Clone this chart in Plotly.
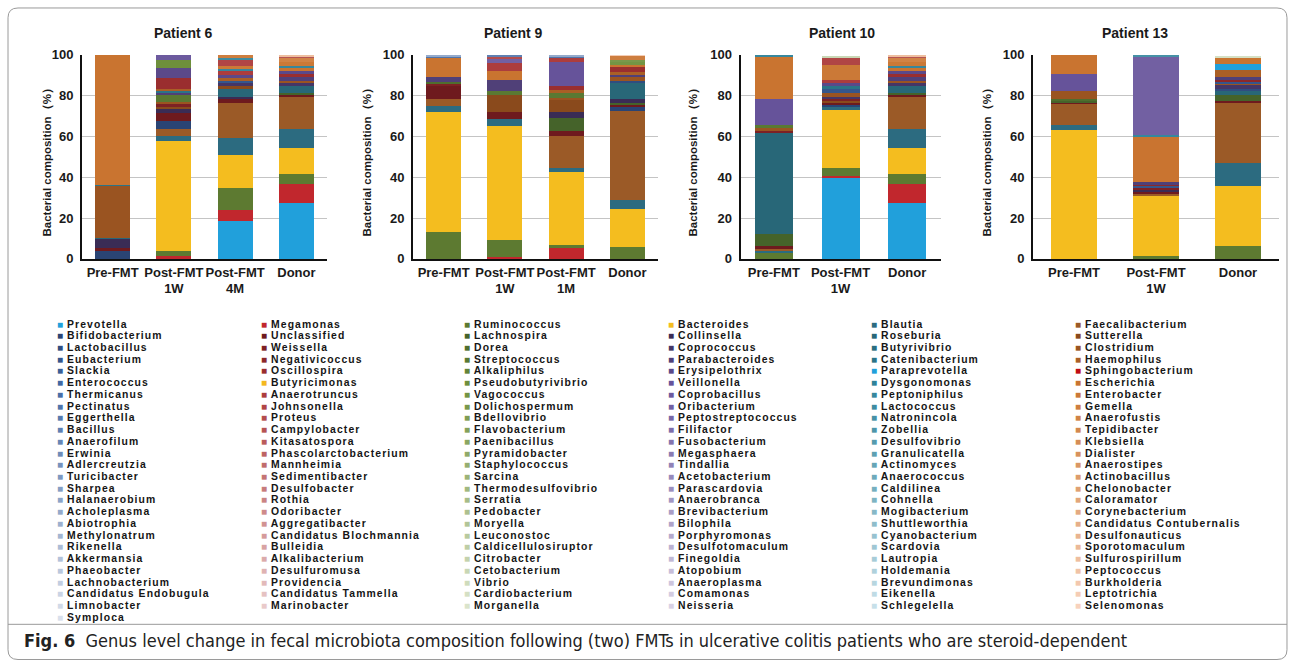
import plotly.graph_objects as go

# ---------------- legend / genus names (Excel legend, 6 columns) ----------------
COL1 = ["Prevotella", "Bifidobacterium", "Lactobacillus", "Eubacterium", "Slackia", "Enterococcus",
        "Thermicanus", "Pectinatus", "Eggerthella", "Bacillus", "Anaerofilum", "Erwinia", "Adlercreutzia",
        "Turicibacter", "Sharpea", "Halanaerobium", "Acholeplasma", "Abiotrophia", "Methylonatrum",
        "Rikenella", "Akkermansia", "Phaeobacter", "Lachnobacterium", "Candidatus Endobugula",
        "Limnobacter", "Symploca"]
COL2 = ["Megamonas", "Unclassified", "Weissella", "Negativicoccus", "Oscillospira", "Butyricimonas",
        "Anaerotruncus", "Johnsonella", "Proteus", "Campylobacter", "Kitasatospora",
        "Phascolarctobacterium", "Mannheimia", "Sedimentibacter", "Desulfobacter", "Rothia",
        "Odoribacter", "Aggregatibacter", "Candidatus Blochmannia", "Bulleidia", "Alkalibacterium",
        "Desulfuromusa", "Providencia", "Candidatus Tammella", "Marinobacter"]
COL3 = ["Ruminococcus", "Lachnospira", "Dorea", "Streptococcus", "Alkaliphilus", "Pseudobutyrivibrio",
        "Vagococcus", "Dolichospermum", "Bdellovibrio", "Flavobacterium", "Paenibacillus",
        "Pyramidobacter", "Staphylococcus", "Sarcina", "Thermodesulfovibrio", "Serratia", "Pedobacter",
        "Moryella", "Leuconostoc", "Caldicellulosiruptor", "Citrobacter", "Cetobacterium", "Vibrio",
        "Cardiobacterium", "Morganella"]
COL4 = ["Bacteroides", "Collinsella", "Coprococcus", "Parabacteroides", "Erysipelothrix", "Veillonella",
        "Coprobacillus", "Oribacterium", "Peptostreptococcus", "Filifactor", "Fusobacterium",
        "Megasphaera", "Tindallia", "Acetobacterium", "Parascardovia", "Anaerobranca", "Brevibacterium",
        "Bilophila", "Porphyromonas", "Desulfotomaculum", "Finegoldia", "Atopobium", "Anaeroplasma",
        "Comamonas", "Neisseria"]
COL5 = ["Blautia", "Roseburia", "Butyrivibrio", "Catenibacterium", "Paraprevotella", "Dysgonomonas",
        "Peptoniphilus", "Lactococcus", "Natronincola", "Zobellia", "Desulfovibrio", "Granulicatella",
        "Actinomyces", "Anaerococcus", "Caldilinea", "Cohnella", "Mogibacterium", "Shuttleworthia",
        "Cyanobacterium", "Scardovia", "Lautropia", "Holdemania", "Brevundimonas", "Eikenella",
        "Schlegelella"]
COL6 = ["Faecalibacterium", "Sutterella", "Clostridium", "Haemophilus", "Sphingobacterium", "Escherichia",
        "Enterobacter", "Gemella", "Anaerofustis", "Tepidibacter", "Klebsiella", "Dialister",
        "Anaerostipes", "Actinobacillus", "Chelonobacter", "Caloramator", "Corynebacterium",
        "Candidatus Contubernalis", "Desulfonauticus", "Sporotomaculum", "Sulfurospirillum",
        "Peptococcus", "Burkholderia", "Leptotrichia", "Selenomonas"]

# ---------------- samples ----------------
SAMPLES_P6 = ["Pre-FMT", "Post-FMT<br>1W", "Post-FMT<br>4M", "Donor"]
SAMPLES_P9 = ["Pre-FMT", "Post-FMT<br>1W", "Post-FMT<br>1M", "Donor"]
SAMPLES_P10 = ["Pre-FMT", "Post-FMT<br>1W", "Donor"]
SAMPLES_P13 = ["Pre-FMT", "Post-FMT<br>1W", "Donor"]

# ---------------- relative abundances (%) ----------------
P6_PRE = {"Bifidobacterium": 3.9, "Unclassified": 1.5, "Collinsella": 4.6, "Roseburia": 0.4,
          "Clostridium": 25.5, "Catenibacterium": 0.4, "Escherichia": 63.7}
P6_1W = {"Megamonas": 1.5, "Ruminococcus": 2.5, "Bacteroides": 54.0, "Blautia": 2.3,
         "Faecalibacterium": 3.4, "Bifidobacterium": 4.1, "Unclassified": 3.6, "Collinsella": 2.0,
         "Sutterella": 1.0, "Weissella": 1.4, "Clostridium": 1.0, "Streptococcus": 3.6,
         "Parabacteroides": 1.1, "Catenibacterium": 1.3, "Haemophilus": 0.5, "Oscillospira": 5.3,
         "Erysipelothrix": 4.9, "Pseudobutyrivibrio": 4.0, "Coprobacillus": 2.5}
P6_4M = {"Prevotella": 18.5, "Megamonas": 5.5, "Ruminococcus": 10.5, "Bacteroides": 16.6,
         "Blautia": 8.2, "Faecalibacterium": 17.3, "Unclassified": 1.7, "Collinsella": 1.0,
         "Roseburia": 3.9, "Sutterella": 1.6, "Coprococcus": 1.6, "Eubacterium": 1.0,
         "Haemophilus": 1.3, "Erysipelothrix": 1.6, "Anaerotruncus": 2.0, "Peptoniphilus": 0.6,
         "Enterobacter": 1.4, "Johnsonella": 3.6, "Lactococcus": 0.4, "Gemella": 1.7}
DONOR_A = {"Prevotella": 27.3, "Megamonas": 9.5, "Ruminococcus": 4.9, "Bacteroides": 12.4,
           "Blautia": 9.6, "Faecalibacterium": 15.4, "Unclassified": 1.0, "Lachnospira": 1.1,
           "Roseburia": 3.3, "Coprococcus": 1.9, "Clostridium": 1.0, "Parabacteroides": 1.9,
           "Oscillospira": 1.5, "Erysipelothrix": 1.5, "Escherichia": 1.1, "Peptoniphilus": 1.2,
           "Enterobacter": 2.0, "Anaerofustis": 1.6, "Campylobacter": 1.0, "Sulfurospirillum": 0.8}

P9_PRE = {"Ruminococcus": 13.1, "Bacteroides": 58.8, "Blautia": 3.1, "Faecalibacterium": 3.3,
          "Unclassified": 6.2, "Weissella": 1.0, "Dorea": 1.1, "Parabacteroides": 2.4,
          "Escherichia": 9.4, "Pectinatus": 1.1, "Acholeplasma": 0.5}
P9_1W = {"Megamonas": 0.7, "Ruminococcus": 8.6, "Bacteroides": 55.6, "Blautia": 3.6,
         "Unclassified": 3.4, "Sutterella": 8.5, "Streptococcus": 2.0, "Parabacteroides": 5.3,
         "Escherichia": 4.6, "Anaerotruncus": 3.9, "Oribacterium": 1.6, "Proteus": 1.1, "Bacillus": 1.1}
P9_1M = {"Megamonas": 5.2, "Ruminococcus": 1.7, "Bacteroides": 35.9, "Blautia": 1.5,
         "Faecalibacterium": 16.0, "Unclassified": 2.4, "Lachnospira": 6.3, "Collinsella": 2.9,
         "Sutterella": 6.0, "Clostridium": 1.0, "Streptococcus": 2.3, "Haemophilus": 1.6,
         "Oscillospira": 2.0, "Veillonella": 11.9, "Anaerotruncus": 1.7, "Pectinatus": 1.1,
         "Acholeplasma": 0.5}
P9_DONOR = {"Ruminococcus": 6.0, "Bacteroides": 18.5, "Blautia": 4.4, "Faecalibacterium": 43.6,
            "Bifidobacterium": 1.9, "Unclassified": 1.0, "Lachnospira": 1.2, "Collinsella": 1.7,
            "Roseburia": 7.8, "Lactobacillus": 1.1, "Clostridium": 1.8, "Parabacteroides": 1.2,
            "Haemophilus": 1.6, "Oscillospira": 2.5, "Escherichia": 0.8, "Vagococcus": 1.6,
            "Dolichospermum": 0.8, "Gemella": 2.2, "Leptotrichia": 0.3}

P10_PRE = {"Ruminococcus": 3.0, "Blautia": 1.2, "Faecalibacterium": 0.6, "Unclassified": 1.6,
           "Lachnospira": 5.7, "Roseburia": 49.5, "Weissella": 1.6, "Clostridium": 0.8,
           "Streptococcus": 1.7, "Veillonella": 12.7, "Escherichia": 21.1, "Peptoniphilus": 0.5}
P10_1W = {"Prevotella": 40.0, "Megamonas": 0.7, "Ruminococcus": 3.6, "Bacteroides": 28.7,
          "Blautia": 1.4, "Bifidobacterium": 1.2, "Unclassified": 0.8, "Sutterella": 1.5,
          "Weissella": 0.8, "Coprococcus": 0.8, "Clostridium": 2.0, "Eubacterium": 1.7,
          "Catenibacterium": 1.3, "Erysipelothrix": 1.6, "Anaerotruncus": 1.6, "Enterobacter": 7.4,
          "Johnsonella": 3.3, "Cetobacterium": 1.1}

P13_PRE = {"Bacteroides": 63.2, "Blautia": 2.3, "Faecalibacterium": 10.5, "Unclassified": 0.6,
           "Lachnospira": 0.6, "Dorea": 1.0, "Clostridium": 4.2, "Veillonella": 8.1, "Escherichia": 9.5}
P13_1W = {"Ruminococcus": 1.2, "Bacteroides": 29.8, "Faecalibacterium": 1.0, "Unclassified": 1.0,
          "Collinsella": 0.8, "Weissella": 1.1, "Eubacterium": 0.8, "Negativicoccus": 1.0,
          "Parabacteroides": 0.8, "Escherichia": 22.5, "Peptoniphilus": 0.5, "Oribacterium": 38.4,
          "Natronincola": 1.1}
P13_DONOR = {"Ruminococcus": 6.5, "Bacteroides": 29.4, "Blautia": 11.3, "Faecalibacterium": 29.1,
             "Unclassified": 1.2, "Lachnospira": 2.6, "Roseburia": 2.3, "Lactobacillus": 1.0,
             "Coprococcus": 1.6, "Clostridium": 1.0, "Eubacterium": 0.8, "Negativicoccus": 0.8,
             "Parabacteroides": 1.5, "Haemophilus": 3.6, "Paraprevotella": 2.6, "Escherichia": 3.2,
             "Cardiobacterium": 1.0}

PANELS = [
    ("Patient 6", SAMPLES_P6, [P6_PRE, P6_1W, P6_4M, DONOR_A]),
    ("Patient 9", SAMPLES_P9, [P9_PRE, P9_1W, P9_1M, P9_DONOR]),
    ("Patient 10", SAMPLES_P10, [P10_PRE, P10_1W, DONOR_A]),
    ("Patient 13", SAMPLES_P13, [P13_PRE, P13_1W, P13_DONOR]),
]
Y_TICKS = [0, 20, 40, 60, 80, 100]
CAPTION_LABEL = "Fig. 6"
CAPTION_TEXT = ("Genus level change in fecal microbiota composition following (two) FMTs in "
                "ulcerative colitis patients who are steroid-dependent")

# ---------------- styling ----------------
COLUMNS = [COL1, COL2, COL3, COL4, COL5, COL6]
NROWS = max(len(c) for c in COLUMNS)
GENERA = []
for r in range(NROWS):
    for c in COLUMNS:
        if r < len(c):
            GENERA.append(c[r])


def hex2rgb(h):
    h = h.lstrip("#")
    return [int(h[i:i + 2], 16) for i in (0, 2, 4)]


def mix(a, b, t):
    a, b = hex2rgb(a), hex2rgb(b)
    return "#%02x%02x%02x" % tuple(int(round(a[i] + (b[i] - a[i]) * t)) for i in range(3))


# (dark row-1 shade, accent around row 5-6, pale last shade) per legend column
RAMPS = [
    ("#2a4474", "#4068a3", "#d9e0ec"),
    ("#6e1a1e", "#a93535", "#ecd2d2"),
    ("#45632a", "#6e8f3c", "#e0e9d3"),
    ("#3a2c55", "#66539a", "#dfd9e9"),
    ("#286778", "#2e8299", "#cfe5ed"),
    ("#8a4a1c", "#c97430", "#fad7c4"),
]
FIRST_ROW = ["#21a0db", "#c1272d", "#5d7a31", "#f4bd1f", "#2c6b80", "#9b5a27"]
OVERRIDE = {"Butyricimonas": "#f4b81f", "Paraprevotella": "#21a0db", "Sphingobacterium": "#c00d14"}

COLOR = {}
for ci, col in enumerate(COLUMNS):
    dark, mid, pale = RAMPS[ci]
    for r, g in enumerate(col):
        if r == 0:
            COLOR[g] = FIRST_ROW[ci]
        elif r <= 5:
            COLOR[g] = mix(dark, mid, (r - 1) / 4.0)
        else:
            COLOR[g] = mix(mid, pale, (r - 5) / 20.0)
        if g in OVERRIDE:
            COLOR[g] = OVERRIDE[g]

W, H = 1295, 668
FONT = "Arial, Liberation Sans, sans-serif"


def px(x):
    return x / W


def py(y):
    return 1 - y / H


# plot areas in pixels
X_AREAS = [(82, 327), (413, 658), (740.5, 940.5), (1033, 1279)]
Y_AREA = (48.9, 257.7)
TITLE_Y = 26.4
TITLE_X = [183, 513, 842, 1135]
YTITLE_X = [47, 367, 693, 987]
YTITLE_Y = 156

fig = go.Figure()
layout = dict(
    width=W, height=H, margin=dict(l=0, r=0, t=0, b=0),
    paper_bgcolor="white", plot_bgcolor="rgba(0,0,0,0)",
    barmode="stack", bargap=0.43, showlegend=False,
    font=dict(family=FONT, color="#1a1a1a"),
)
annotations = []

for pi, (title, samples, bars) in enumerate(PANELS):
    ax = "" if pi == 0 else str(pi + 1)
    for g in GENERA:
        vals = [b.get(g, 0) for b in bars]
        if not any(vals):
            continue
        fig.add_trace(go.Bar(
            x=samples, y=vals, name=g, marker=dict(color=COLOR[g], line=dict(width=0)),
            xaxis="x" + ax, yaxis="y" + ax, hovertemplate=g + ": %{y}%<extra></extra>",
        ))
    l, r = X_AREAS[pi]
    layout["xaxis" + ax] = dict(
        domain=[px(l), px(r)], anchor="y" + ax, showline=True, linecolor="#111", linewidth=2,
        showgrid=False, ticks="", tickangle=0, tickfont=dict(size=13, weight="bold", color="#1a1a1a"),
        fixedrange=True, categoryorder="array", categoryarray=samples,
    )
    layout["yaxis" + ax] = dict(
        domain=[py(Y_AREA[1]), py(Y_AREA[0])], anchor="x" + ax, range=[0, 100],
        tickvals=Y_TICKS, showline=True, linecolor="#111", linewidth=2,
        showgrid=True, gridcolor="#c4c4c4", gridwidth=1, zeroline=False, ticks="",
        ticklabelstandoff=4, tickfont=dict(size=13, weight="bold", color="#1a1a1a"), fixedrange=True,
    )
    annotations.append(dict(
        text=title, x=px(TITLE_X[pi]), y=py(TITLE_Y), xref="paper", yref="paper", showarrow=False,
        xanchor="center", yanchor="middle", font=dict(size=14, weight="bold", color="#1a1a1a"),
    ))
    annotations.append(dict(
        text="Bacterial composition（%）", x=px(YTITLE_X[pi]), y=py(YTITLE_Y), xref="paper", yref="paper",
        showarrow=False, textangle=-90, xanchor="center", yanchor="middle",
        font=dict(size=11.5, weight="bold", color="#1a1a1a"),
    ))

# legend drawn as text entries in the Excel grid layout
LEG_X0, LEG_DX = 56, 203.6
LEG_Y0, LEG_DY = 324.3, 12.0
for ci, col in enumerate(COLUMNS):
    for r, g in enumerate(col):
        annotations.append(dict(
            text=('<span style="color:%s;font-size:10px">■</span>'
                  '<span style="letter-spacing:1.1px"> %s</span>') % (COLOR[g], g),
            x=px(LEG_X0 + ci * LEG_DX), y=py(LEG_Y0 + r * LEG_DY), xref="paper", yref="paper",
            showarrow=False, xanchor="left", yanchor="middle", borderpad=0,
            font=dict(size=10.4, color="#151515", weight="bold"),
        ))

annotations.append(dict(
    text="<b>%s</b>  %s" % (CAPTION_LABEL, CAPTION_TEXT), x=px(22), y=py(648.5), xref="paper", yref="paper",
    showarrow=False, xanchor="left", yanchor="middle",
    font=dict(size=18, family="Liberation Sans Narrow, DejaVu Sans Condensed, Arial Narrow, sans-serif",
              color="#222"),
))
layout["annotations"] = annotations

FR_L, FR_R, FR_T, FR_B, RAD = 8, 1287, 1, 667.5, 10
layout["shapes"] = [
    dict(type="path", xref="paper", yref="paper", line=dict(color="#9a9a9a", width=1),
         path="M %f,%f L %f,%f Q %f,%f %f,%f L %f,%f Q %f,%f %f,%f L %f,%f Q %f,%f %f,%f L %f,%f Q %f,%f %f,%f Z" % (
             px(FR_L + RAD), py(FR_T), px(FR_R - RAD), py(FR_T), px(FR_R), py(FR_T), px(FR_R), py(FR_T + RAD),
             px(FR_R), py(FR_B - RAD), px(FR_R), py(FR_B), px(FR_R - RAD), py(FR_B),
             px(FR_L + RAD), py(FR_B), px(FR_L), py(FR_B), px(FR_L), py(FR_B - RAD),
             px(FR_L), py(FR_T + RAD), px(FR_L), py(FR_T), px(FR_L + RAD), py(FR_T))),
    dict(type="line", xref="paper", yref="paper", x0=px(FR_L), x1=px(FR_R), y0=py(631.5), y1=py(631.5),
         line=dict(color="#9a9a9a", width=1)),
]

fig.update_layout(**layout)
fig.write_html("out.html", config={"displayModeBar": False},
               post_script="document.body.style.margin='0';document.body.style.padding='0';")
